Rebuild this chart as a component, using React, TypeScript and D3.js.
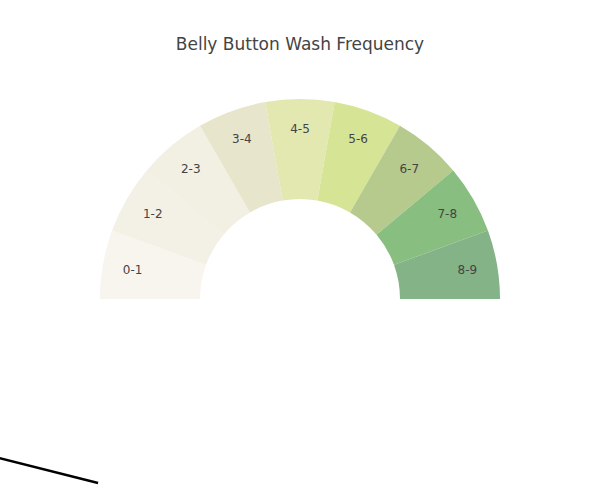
import * as d3 from "d3";
import { useEffect, useRef } from "react";

const categories = ["0-1", "1-2", "2-3", "3-4", "4-5", "5-6", "6-7", "7-8", "8-9"];
const values = [1, 1, 1, 1, 1, 1, 1, 1, 1];
const colors = [
  "#F8F4EE",
  "#F3F0E5",
  "#F2EFE3",
  "#E7E5CB",
  "#E3E7B0",
  "#D6E496",
  "#B5CA8C",
  "#88BE80",
  "#84B388",
];
// needle shape in paper coordinates (x: 0..1, y: 0..1)
const needle = [
  { x: -0.2, y: -0.113 },
  { x: 0.041, y: -0.197 },
];

const title = "Belly Button Wash Frequency";

const App = () => {
  const ref = useRef<SVGSVGElement | null>(null);

  useEffect(() => {
    if (!ref.current) return;
    const svg = d3.select(ref.current);
    svg.selectAll("*").remove();
    const width = 600;
    const height = 500;
    const margin = { top: 100, right: 80, bottom: 80, left: 80 };
    const cx = width / 2;
    const cy = 299;
    const outer = 200;
    const inner = 100;

    svg.attr("width", width).attr("height", height);

    svg
      .append("rect")
      .attr("width", width)
      .attr("height", height)
      .attr("fill", "#fff");

    const pie = d3
      .pie<number>()
      .sort(null)
      .startAngle(-Math.PI / 2)
      .endAngle(Math.PI / 2);

    const arc = d3.arc<d3.PieArcDatum<number>>().innerRadius(inner).outerRadius(outer);
    const labelArc = d3.arc<d3.PieArcDatum<number>>().innerRadius(170).outerRadius(170);

    const g = svg.append("g").attr("transform", `translate(${cx},${cy})`);
    const arcs = pie(values);

    g.selectAll("path")
      .data(arcs)
      .join("path")
      .attr("d", arc)
      .attr("fill", (_, i) => colors[i]);

    g.selectAll("text")
      .data(arcs)
      .join("text")
      .attr("transform", (d) => `translate(${labelArc.centroid(d)})`)
      .attr("text-anchor", "middle")
      .attr("dy", "0.35em")
      .attr("font-family", "DejaVu Sans, Verdana, sans-serif")
      .attr("font-size", 12)
      .attr("fill", "#444")
      .text((_, i) => categories[i]);

    svg
      .append("text")
      .attr("x", cx)
      .attr("y", 50)
      .attr("text-anchor", "middle")
      .attr("font-family", "DejaVu Sans, Verdana, sans-serif")
      .attr("font-size", 17)
      .attr("fill", "#444")
      .text(title);

    const px = d3.scaleLinear().domain([0, 1]).range([margin.left, width - margin.right]);
    const py = d3.scaleLinear().domain([0, 1]).range([height - margin.bottom, margin.top]);

    const line = d3
      .line<{ x: number; y: number }>()
      .x((d) => px(d.x))
      .y((d) => py(d.y));

    svg
      .append("path")
      .datum(needle)
      .attr("d", line)
      .attr("fill", "none")
      .attr("stroke", "#000")
      .attr("stroke-width", 2.5);
  }, []);

  return (
    <svg
      ref={ref}
      style={{ position: "absolute", left: 0, top: 0, display: "block" }}
    ></svg>
  );
};

export default App;
